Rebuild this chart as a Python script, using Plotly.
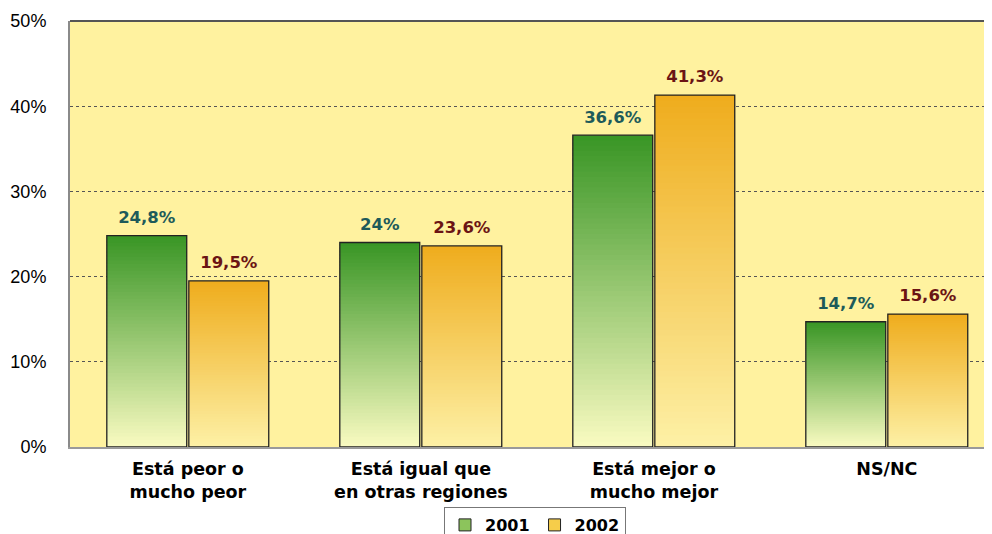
import plotly.graph_objects as go

categories = ["Está peor o<br>mucho peor", "Está igual que<br>en otras regiones",
              "Está mejor o<br>mucho mejor", "NS/NC"]
values_2001 = [24.8, 24.0, 36.6, 14.7]
values_2002 = [19.5, 23.6, 41.3, 15.6]
series_names = ["2001", "2002"]
y_ticks = [0, 10, 20, 30, 40, 50]
y_ticklabels = ["0%", "10%", "20%", "30%", "40%", "50%"]

# style
grad = {
    "2001": ((58, 150, 38), (248, 250, 192)),
    "2002": ((239, 173, 30), (253, 240, 165)),
}
label_colors = {"2001": "#1d5a5a", "2002": "#6b1414"}
legend_colors = {"2001": "#8cc45c", "2002": "#f6cd4a"}
BAR_W = 0.343
OFFSETS = {"2001": -0.348, "2002": 0.004}
N = 60
BOLD_FONT = "DejaVu Sans, Verdana, sans-serif"
PAGE_OFFSET = 8  # default body margin of the html page
X_START = -0.506

def fmt(v):
    return f"{v:g}".replace(".", ",") + "%"

def lerp(c0, c1, t):
    return "rgb(%d,%d,%d)" % tuple(round(a + (b - a) * t) for a, b in zip(c0, c1))

fig = go.Figure()
xs = list(range(len(categories)))

for name, vals in zip(series_names, [values_2001, values_2002]):
    top, bottom = grad[name]
    sx, sy, sb, sc = [], [], [], []
    for i in range(N):
        t = i / (N - 1)
        col = lerp(bottom, top, t)
        for x, v in zip(xs, vals):
            base = v * i / N
            h = min(v * (i + 1.6) / N, v) - base
            sx.append(x)
            sy.append(h)
            sb.append(base)
            sc.append(col)
    fig.add_trace(go.Bar(x=sx, y=sy, base=sb, width=BAR_W, offset=OFFSETS[name],
                         marker=dict(color=sc, line=dict(width=0)),
                         showlegend=False, hoverinfo="skip"))
    # outline
    fig.add_trace(go.Bar(x=xs, y=vals, width=BAR_W, offset=OFFSETS[name],
                         marker=dict(color="rgba(0,0,0,0)", line=dict(color="#222222", width=1.3)),
                         showlegend=False, hoverinfo="skip"))
    # labels
    fig.add_trace(go.Scatter(x=[x + OFFSETS[name] + BAR_W / 2 for x in xs], y=vals,
                             mode="markers+text", text=[fmt(v) for v in vals],
                             marker=dict(size=12, color="rgba(0,0,0,0)"),
                             textposition="top center",
                             textfont=dict(family=BOLD_FONT, size=16.5,
                                           color=label_colors[name], weight="bold"),
                             showlegend=False, hoverinfo="skip"))
    # legend entry
    fig.add_trace(go.Bar(x=[None], y=[None], name=name,
                         marker=dict(color=legend_colors[name], line=dict(color="#222", width=1))))

W, H = 992, 534
fig.update_layout(
    width=W, height=H,
    margin=dict(l=70 - PAGE_OFFSET, r=0, t=21 - PAGE_OFFSET, b=H - (447 - PAGE_OFFSET),
                autoexpand=False),
    paper_bgcolor="white",
    plot_bgcolor="#FFF29F",
    barmode="overlay",
    font=dict(family="Liberation Sans, Arial", color="black"),
    legend=dict(orientation="h", x=(535 - PAGE_OFFSET) / W, xref="container", xanchor="center",
                y=1 - (507 - PAGE_OFFSET) / H, yref="container", yanchor="top",
                bordercolor="#777", borderwidth=1, bgcolor="white",
                font=dict(family=BOLD_FONT, size=16, weight="bold"),
                tracegroupgap=0),
    xaxis=dict(range=[X_START, X_START + (W - (70 - PAGE_OFFSET)) / 233.0], tickmode="array",
               tickvals=xs, ticktext=categories,
               tickfont=dict(family=BOLD_FONT, size=17.5, color="black", weight="bold"),
               showgrid=False, zeroline=False,
               showline=True, linecolor="#9a9a9a", linewidth=2,
               ticks="", ticklabelstandoff=5, automargin=False, fixedrange=True),
    yaxis=dict(range=[0, 50], tickmode="array", tickvals=y_ticks, ticktext=y_ticklabels,
               tickfont=dict(size=18, color="black"),
               showgrid=True, gridcolor="#555555", griddash="dot", gridwidth=1,
               zeroline=False, showline=True, linecolor="#8a8a8a", linewidth=2,
               ticks="", ticklabelstandoff=18, automargin=False),
    shapes=[dict(type="line", xref="paper", yref="paper", x0=0, x1=1, y0=1, y1=1,
                 line=dict(color="#555555", width=2))],
)

fig.write_html("out.html")
